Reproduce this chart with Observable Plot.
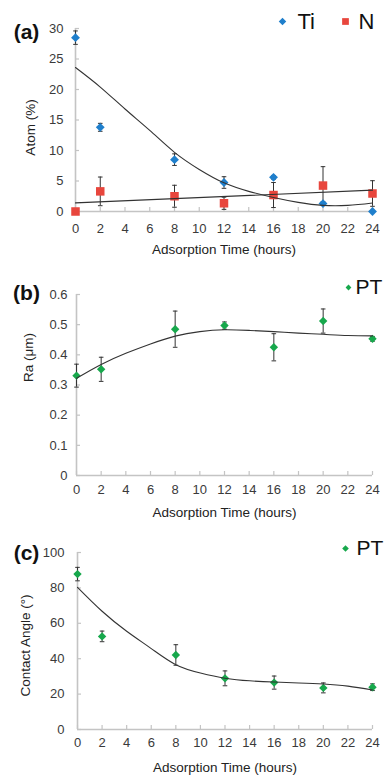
<!DOCTYPE html>
<html><head><meta charset="utf-8">
<script src="https://cdn.jsdelivr.net/npm/d3@7"></script>
<script src="https://cdn.jsdelivr.net/npm/@observablehq/plot@0.6"></script>
<style>
body{margin:0;background:#fff;}
#chart{width:386px;}
#chart svg{display:block;}
</style>
</head><body><div id="chart"></div>
<script>
// ---- data ----
const hours = [0, 2, 8, 12, 16, 20, 24];
const tiAtom = [28.5, 13.8, 8.5, 4.75, 5.6, 1.3, 0];
const tiErr  = [1.1, 0.65, 0.95, 0.95, 0.3, 0.3, 0];
const nAtom  = [0, 3.3, 2.5, 1.35, 2.7, 4.25, 2.95];
const nErr   = [0, 2.35, 1.8, 1.0, 2.05, 3.1, 2.1];
const fitHours = [0, 2, 4, 6, 8, 10, 12, 14, 16, 18, 20, 22, 24];
const tiFit  = [23.6, 20.4, 16.8, 13.3, 9.7, 6.9, 4.7, 3.3, 2.3, 1.5, 1.0, 1.0, 1.4];
const raPT   = [0.331, 0.352, 0.485, 0.497, 0.425, 0.512, 0.453];
const raErr  = [0.038, 0.04, 0.06, 0.012, 0.045, 0.04, 0.008];
const raFit  = [0.322, 0.368, 0.405, 0.436, 0.462, 0.477, 0.483, 0.481, 0.477, 0.472, 0.468, 0.464, 0.463];
const caPT   = [87.8, 52.6, 42.1, 28.9, 26.5, 23.5, 23.9];
const caErr  = [3.8, 3.0, 5.8, 4.2, 3.7, 2.8, 1.9];
const caFit  = [80.3, 66.8, 55.5, 45.7, 36.6, 31.9, 29.0, 27.5, 26.8, 26.3, 25.7, 24.5, 22.3];
const xTicks = [0, 2, 4, 6, 8, 10, 12, 14, 16, 18, 20, 22, 24];
const yTicksA = [0, 5, 10, 15, 20, 25, 30];
const yTicksB = [0, 0.1, 0.2, 0.3, 0.4, 0.5, 0.6];
const yTicksC = [0, 20, 40, 60, 80, 100];
const xTitle = "Adsorption Time (hours)";

const BLUE = "#1f7fcc", RED = "#e8463d", GREEN = "#17a84c";
const AXIS = "#c4c4c4", INK = "#333";
const FONT = "'Liberation Sans', Arial, sans-serif";
const capSymbol = {draw(ctx) { ctx.moveTo(-2.3, 0); ctx.lineTo(2.3, 0); }};

const rows = (vals, errs) => hours.map((h, i) => ({h, v: vals[i], lo: vals[i] - errs[i], hi: vals[i] + errs[i]}));
const fitRows = vals => fitHours.map((h, i) => ({h, v: vals[i]}));

function errMarks(data) {
  return [
    Plot.ruleX(data, {x: "h", y1: "lo", y2: "hi", stroke: INK, strokeWidth: 1}),
    Plot.dot(data, {x: "h", y: "lo", symbol: capSymbol, r: 3, fill: "none", stroke: INK, strokeWidth: 1}),
    Plot.dot(data, {x: "h", y: "hi", symbol: capSymbol, r: 3, fill: "none", stroke: INK, strokeWidth: 1})
  ];
}

function panel(o) {
  const W = 386, fw = W - o.ml - o.mr, fh = o.height - o.mt - o.mb;
  return Plot.plot({
    width: W, height: o.height,
    marginLeft: o.ml, marginRight: o.mr, marginTop: o.mt, marginBottom: o.mb,
    style: {fontFamily: FONT, fontSize: "13px", color: "#3a3a3a", background: "#fff", overflow: "visible"},
    x: {domain: [0, 24]},
    y: {domain: o.yDomain},
    marks: [
      Plot.tickX(xTicks, {x: d => d, insetTop: fh - 4, stroke: AXIS, strokeWidth: 1.2}),
      Plot.tickY(o.yTicks, {y: d => d, insetRight: fw - 4, stroke: AXIS, strokeWidth: 1.2}),
      Plot.ruleX([0], {stroke: AXIS, strokeWidth: 1.6}),
      Plot.ruleY([o.yDomain[0]], {stroke: AXIS, strokeWidth: 1.6}),
      Plot.axisX({ticks: xTicks, tickSize: 0, tickPadding: o.padX, label: null, fontSize: 13}),
      Plot.axisY({ticks: o.yTicks, tickSize: 0, tickPadding: o.padY, tickFormat: o.fmt, label: null, fontSize: 13}),
      ...o.marks,
      Plot.text([o.tag], {text: d => d, frameAnchor: "top-left", dx: o.tagDx, dy: o.tagDy, fontSize: 21, fontWeight: "bold", fill: "#111", textAnchor: "middle", lineAnchor: "middle"}),
      Plot.text([xTitle], {text: d => d, frameAnchor: "bottom", dy: o.xtDy, fontSize: 13.5, fill: "#222", textAnchor: "middle", lineAnchor: "middle"}),
      Plot.text([o.yTitle], {text: d => d, frameAnchor: "left", dx: o.ytDx, dy: o.ytDy, rotate: -90, fontSize: 13.5, fill: "#222", textAnchor: "middle", lineAnchor: "middle"}),
      ...o.legend
    ]
  });
}

const tiData = rows(tiAtom, tiErr), nData = rows(nAtom, nErr);
const raData = rows(raPT, raErr), caData = rows(caPT, caErr);

const legendItem = (dx, dy, symbol, r, fill, label, tdx, size) => [
  Plot.dot([0], {frameAnchor: "top-left", dx, dy, symbol, r, fill, stroke: "none"}),
  Plot.text([label], {text: d => d, frameAnchor: "top-left", dx: tdx, dy, fontSize: size, fill: "#111", textAnchor: "start", lineAnchor: "middle"})
];

const a = panel({
  height: 258, ml: 75, mr: 14, mt: 28, mb: 47,
  yDomain: [0, 30], yTicks: yTicksA, fmt: d => String(d), padX: 12, padY: 12,
  tag: "(a)", tagDx: -49, tagDy: 4, xtDy: 38, yTitle: "Atom (%)", ytDx: -45, ytDy: 7.5,
  marks: [
    ...errMarks(tiData), ...errMarks(nData),
    Plot.dot(nData, {x: "h", y: "v", symbol: "square", r: 4.8, fill: RED, stroke: "none"}),
    Plot.dot(tiData, {x: "h", y: "v", symbol: "diamond2", r: 4.0, fill: BLUE, stroke: "none"}),
    Plot.line(fitRows(tiFit), {x: "h", y: "v", curve: "natural", stroke: INK, strokeWidth: 1.1}),
    Plot.linearRegressionY(nData, {x: "h", y: "v", ci: 0, stroke: INK, strokeWidth: 1.1})
  ],
  legend: [
    ...legendItem(207, -7, "diamond2", 3.4, BLUE, "Ti", 222, 22),
    ...legendItem(270, -7, "square", 3.8, RED, "N", 283, 22)
  ]
});

const b = panel({
  height: 260, ml: 76, mr: 14, mt: 36, mb: 43,
  yDomain: [0, 0.6], yTicks: yTicksB, fmt: d => d === 0 ? "0" : d3.format(".1f")(d), padX: 9, padY: 9,
  tag: "(b)", tagDx: -50, tagDy: -1, xtDy: 37, yTitle: "Ra (μm)", ytDx: -48, ytDy: -27.5,
  marks: [
    ...errMarks(raData),
    Plot.dot(raData, {x: "h", y: "v", symbol: "diamond2", r: 3.8, fill: GREEN, stroke: "none"}),
    Plot.line(fitRows(raFit), {x: "h", y: "v", curve: "natural", stroke: INK, strokeWidth: 1.1})
  ],
  legend: legendItem(272, -7, "diamond2", 2.6, GREEN, "PT", 279, 21)
});

const c = panel({
  height: 259, ml: 77, mr: 14, mt: 34, mb: 48,
  yDomain: [0, 100], yTicks: yTicksC, fmt: d => String(d), padX: 8, padY: 13,
  tag: "(c)", tagDx: -51, tagDy: 1, xtDy: 38, yTitle: "Contact Angle (°)", ytDx: -52, ytDy: 4.5,
  marks: [
    ...errMarks(caData),
    Plot.dot(caData, {x: "h", y: "v", symbol: "diamond2", r: 3.8, fill: GREEN, stroke: "none"}),
    Plot.line(fitRows(caFit), {x: "h", y: "v", curve: "natural", stroke: INK, strokeWidth: 1.1})
  ],
  legend: legendItem(268, -4, "diamond2", 3.0, GREEN, "PT", 279, 21)
});

const root = document.getElementById("chart");
root.append(a, b, c);
</script>
</body></html>
